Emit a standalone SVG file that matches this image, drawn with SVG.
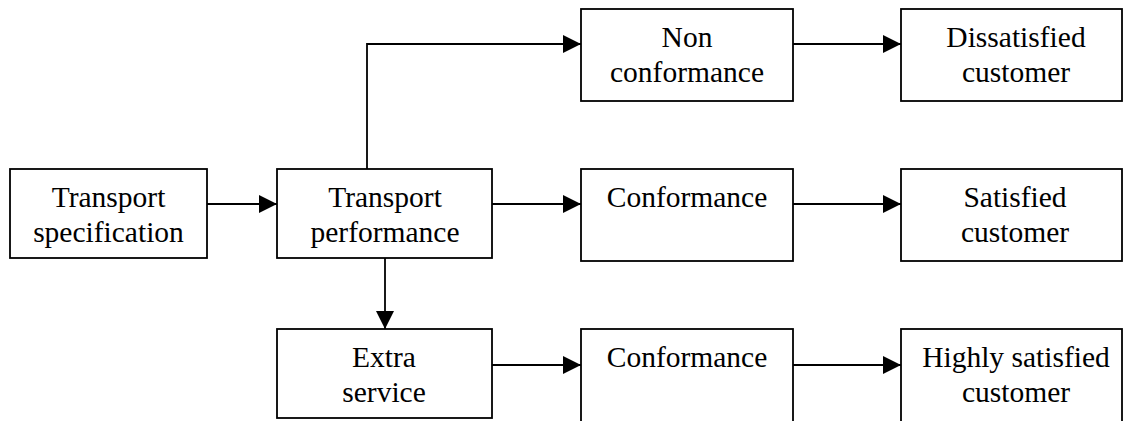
<svg xmlns="http://www.w3.org/2000/svg" width="1125" height="421" viewBox="0 0 1125 421">
  <style>
    .box { fill: #ffffff; stroke: #000000; stroke-width: 1.8; }
    .lbl { font-family: "Liberation Serif", "Times New Roman", serif; font-size: 29.5px; fill: #000000; text-anchor: middle; }
    .wire { fill: none; stroke: #000000; stroke-width: 1.8; marker-end: url(#head); }
  </style>
  <defs>
    <marker id="head" markerUnits="userSpaceOnUse" markerWidth="18" markerHeight="18" refX="18" refY="9" orient="auto">
      <path d="M0,0 L18,9 L0,18 Z" fill="#000000"/>
    </marker>
  </defs>

  <g id="connectors">
    <path class="wire" d="M207,204 H277"/>
    <path class="wire" d="M367,169 V44 H581"/>
    <path class="wire" d="M492,204 H581"/>
    <path class="wire" d="M385,258 V329"/>
    <path class="wire" d="M793,44 H901"/>
    <path class="wire" d="M793,204 H901"/>
    <path class="wire" d="M492,365 H581"/>
    <path class="wire" d="M793,365 H901"/>
  </g>

  <g id="transport-specification">
    <rect class="box" x="10" y="169" width="197" height="89"/>
    <text class="lbl" x="108.5" y="207">Transport</text>
    <text class="lbl" x="108.5" y="241.5">specification</text>
  </g>

  <g id="transport-performance">
    <rect class="box" x="277" y="169" width="215" height="89"/>
    <text class="lbl" x="385" y="207">Transport</text>
    <text class="lbl" x="385" y="241.5">performance</text>
  </g>

  <g id="non-conformance">
    <rect class="box" x="581" y="9" width="212" height="92"/>
    <text class="lbl" x="687" y="47">Non</text>
    <text class="lbl" x="687" y="81.5">conformance</text>
  </g>

  <g id="dissatisfied-customer">
    <rect class="box" x="901" y="9" width="221" height="92"/>
    <text class="lbl" x="1016" y="47">Dissatisfied</text>
    <text class="lbl" x="1016" y="81.5">customer</text>
  </g>

  <g id="conformance">
    <rect class="box" x="581" y="169" width="212" height="92"/>
    <text class="lbl" x="687" y="207">Conformance</text>
  </g>

  <g id="satisfied-customer">
    <rect class="box" x="901" y="169" width="221" height="92"/>
    <text class="lbl" x="1015" y="207">Satisfied</text>
    <text class="lbl" x="1015" y="241.5">customer</text>
  </g>

  <g id="extra-service">
    <rect class="box" x="277" y="329" width="215" height="89"/>
    <text class="lbl" x="384" y="367">Extra</text>
    <text class="lbl" x="384" y="401.5">service</text>
  </g>

  <g id="extra-conformance">
    <rect class="box" x="581" y="329" width="212" height="110"/>
    <text class="lbl" x="687" y="367">Conformance</text>
  </g>

  <g id="highly-satisfied-customer">
    <rect class="box" x="901" y="329" width="221" height="110"/>
    <text class="lbl" x="1016" y="367">Highly satisfied</text>
    <text class="lbl" x="1016" y="401.5">customer</text>
  </g>
</svg>
